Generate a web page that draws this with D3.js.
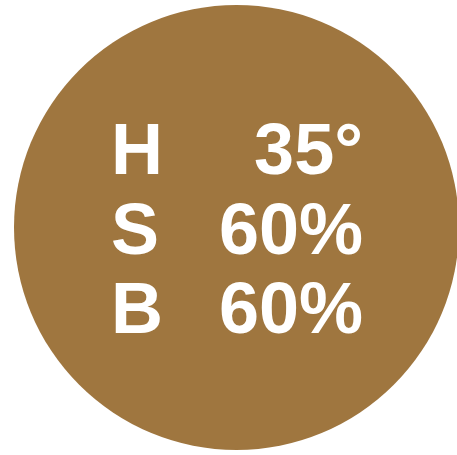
<!DOCTYPE html>
<html>
<head>
<meta charset="utf-8">
<script src="https://cdn.jsdelivr.net/npm/d3@7"></script>
<style>
  html, body { margin: 0; padding: 0; background: #fff; }
  svg { display: block; }
</style>
</head>
<body>
<svg id="chart" width="457" height="455"></svg>
<script>
// colour swatch values
var channels = ["H", "S", "B"];
var channel_values = ["35°", "60%", "60%"];
var swatch_hsb = [35, 0.6, 0.6];

var width = 457,
    height = 455;

var svg = d3.select("#chart");

// hsb -> rgb, the swatch is a bit lighter than the exact conversion
function hsb_to_rgb(h, s, v) {
    var c = v * s, x = c * (1 - Math.abs((h / 60) % 2 - 1)), m = v - c;
    var r = c, g = x, b = 0;
    return d3.rgb((r + m) * 255 + 6, (g + m) * 255 + 3, (b + m) * 255 + 2);
}

svg.append("circle")
    .attr("cx", 236.5)
    .attr("cy", 227.5)
    .attr("r", 222.5)
    .attr("fill", hsb_to_rgb(swatch_hsb[0], swatch_hsb[1], swatch_hsb[2]));

// rows of the label block
var y = d3.scalePoint()
    .domain(channels)
    .range([174, 333]);

var rows = svg.append("g")
    .attr("font-family", "'Liberation Sans', Arial, sans-serif")
    .attr("font-weight", "bold")
    .attr("font-size", 72)
    .attr("fill", "#fff")
    .selectAll("g")
    .data(channels)
    .enter().append("g")
    .attr("transform", function(d) { return "translate(0," + y(d) + ")"; });

rows.append("text")
    .attr("x", 111)
    .text(function(d) { return d; });

rows.append("text")
    .attr("x", 363)
    .attr("text-anchor", "end")
    .text(function(d, i) { return channel_values[i]; });
</script>
</body>
</html>
